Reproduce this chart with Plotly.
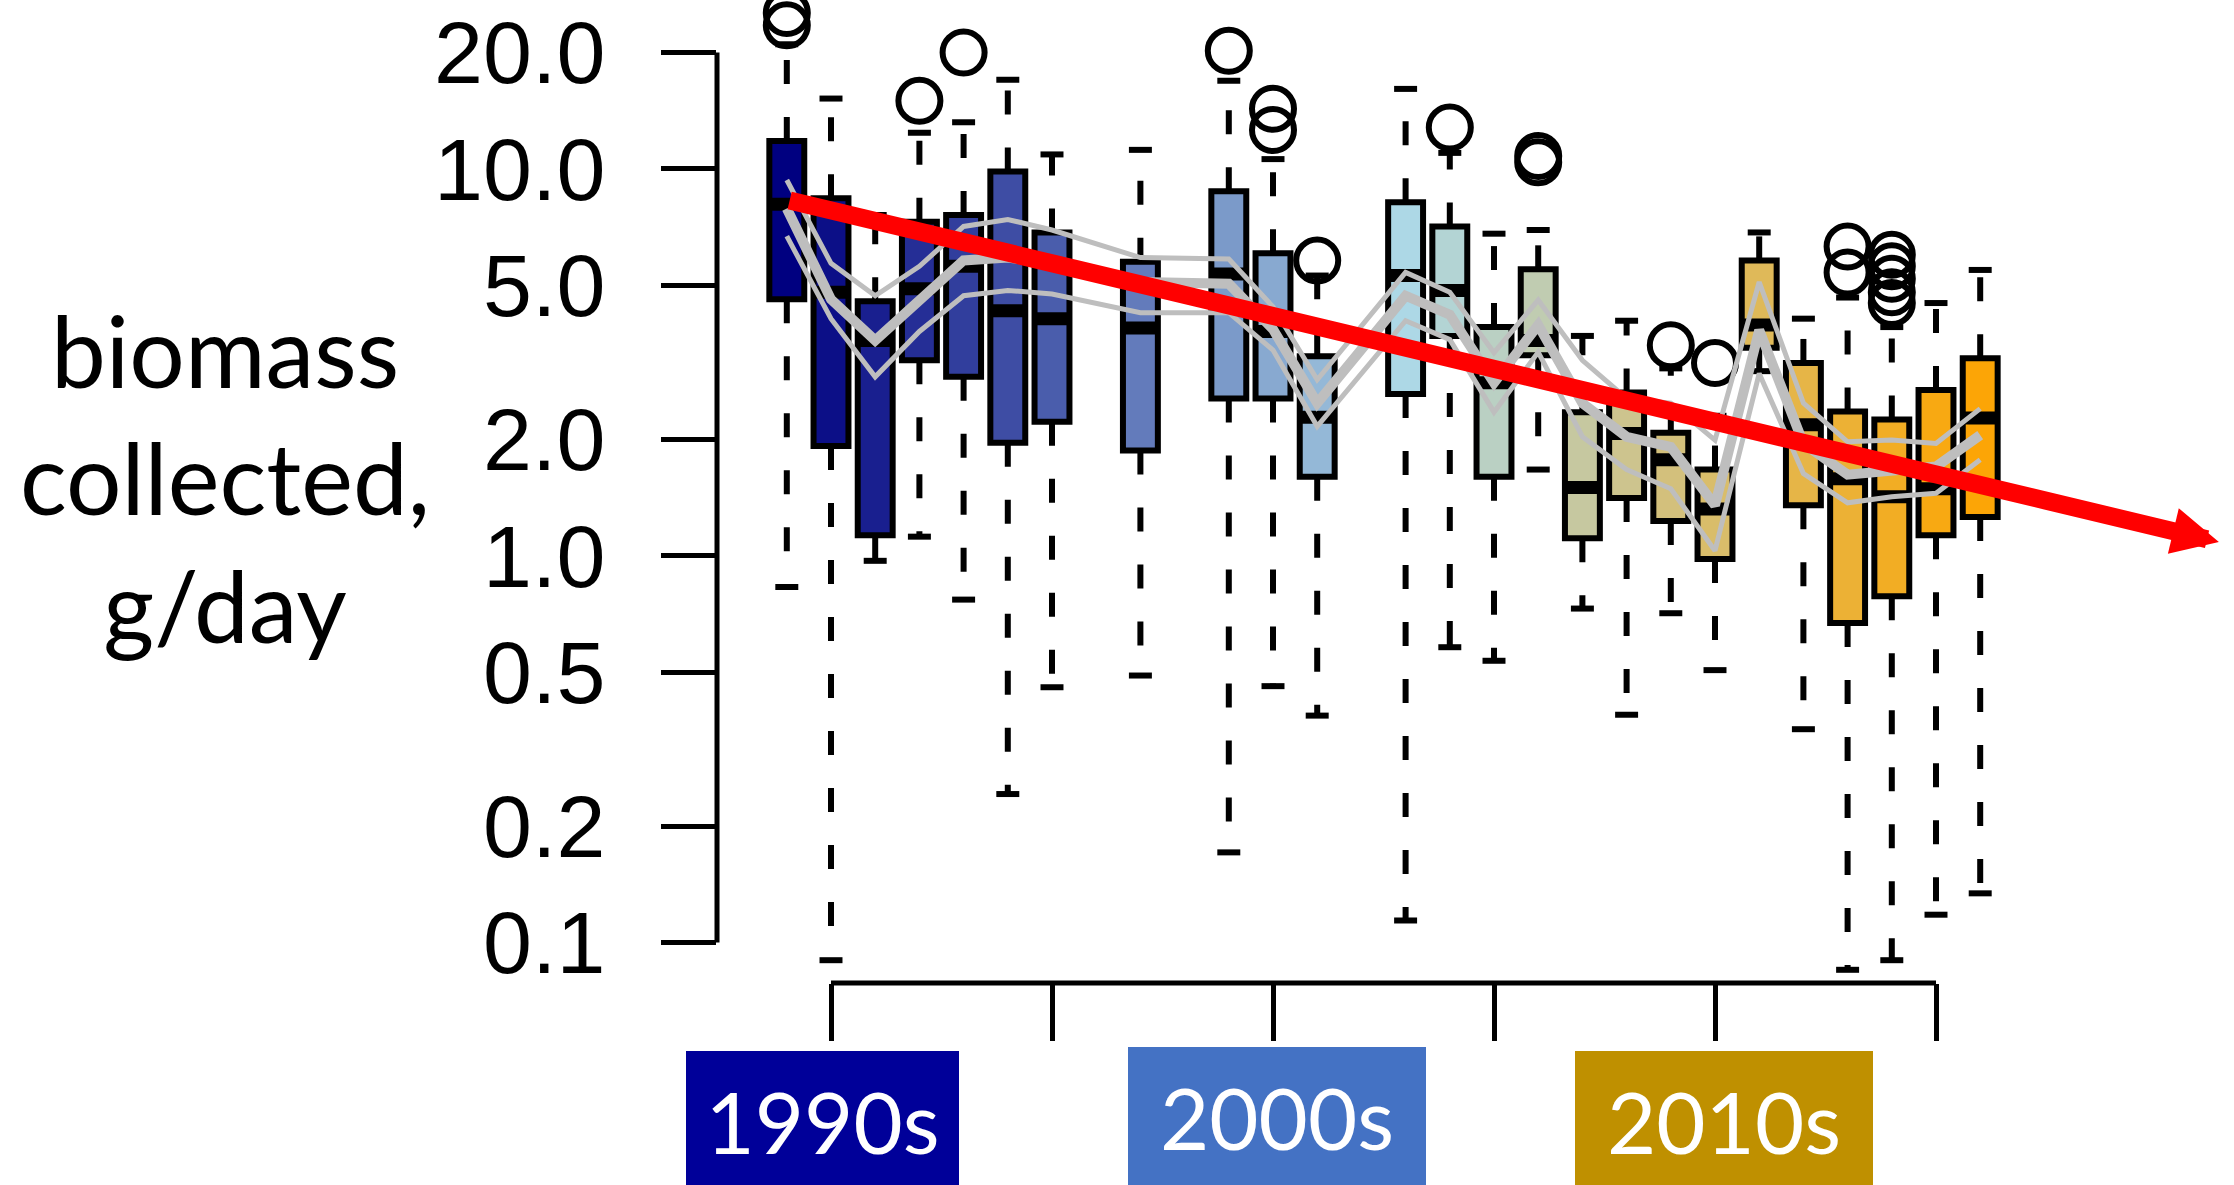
import math
import plotly.graph_objects as go

# ---------------- data ----------------
years = [1989, 1990, 1991, 1992, 1993, 1994, 1995, 1997, 1999, 2000, 2001,
         2003, 2004, 2005, 2006, 2007, 2008, 2009, 2010, 2011, 2012, 2013,
         2014, 2015, 2016]

q3 = [11.8, 8.4, 4.55, 7.3, 7.6, 9.85, 6.85, 5.75, 8.75, 6.05, 3.28,
      8.2, 7.1, 3.9, 5.5, 2.35, 2.64, 2.08, 1.67, 5.8, 3.15, 2.36,
      2.25, 2.68, 3.24]
median = [8.1, 4.8, 3.6, 4.9, 5.6, 4.3, 4.1, 3.88, 5.35, 3.8, 2.28,
          5.3, 4.85, 2.8, 3.6, 1.5, 2.07, 1.77, 1.32, 3.95, 2.18, 1.58,
          1.42, 1.49, 2.27]
q1 = [4.6, 1.92, 1.13, 3.2, 2.9, 1.96, 2.22, 1.87, 2.55, 2.55, 1.6,
      2.62, 3.7, 1.6, 3.3, 1.11, 1.41, 1.23, 0.98, 3.45, 1.35, 0.67,
      0.785, 1.13, 1.26]
upper_whisker = [21.0, 15.2, 7.6, 12.4, 13.2, 17.0, 10.9, 11.2, 16.9, 10.6, 5.3,
                 16.1, 11.0, 6.8, 6.95, 3.7, 4.05, 3.05, 2.3, 6.85, 4.1, 4.65,
                 3.9, 4.5, 5.48]
lower_whisker = [0.83, 0.09, 0.97, 1.12, 0.77, 0.242, 0.457, 0.49, 0.171, 0.46, 0.386,
                 0.114, 0.58, 0.535, 1.67, 0.73, 0.388, 0.71, 0.506, 3.0, 0.356, 0.085,
                 0.09, 0.118, 0.134]

outlier_year = [1989, 1989, 1992, 1993, 1999, 2000, 2000, 2001, 2004, 2006, 2006,
                2009, 2010, 2013, 2013, 2014, 2014, 2014, 2014, 2014]
outlier_value = [25.3, 23.5, 15.0, 20.0, 20.2, 14.3, 12.6, 5.8, 12.8, 10.8, 10.4,
                 3.5, 3.15, 6.3, 5.4, 6.0, 5.6, 5.2, 4.8, 4.5]

fit_upper = [9.36, 5.7, 4.7, 5.6, 7.1, 7.4, 6.95, 5.9, 5.85, 4.4, 2.85,
             5.4, 4.8, 3.35, 4.58, 3.2, 2.55, 2.48, 1.99, 5.1, 2.48, 1.97,
             1.99, 1.95, 2.40]
fit_mid = [7.9, 4.6, 3.6, 4.6, 5.8, 5.9, 5.7, 5.1, 5.05, 3.85, 2.48,
           4.7, 4.2, 2.8, 3.95, 2.48, 2.03, 1.91, 1.35, 3.83, 1.95, 1.62,
           1.67, 1.70, 2.05]
fit_lower = [6.7, 4.1, 2.9, 3.8, 4.7, 4.85, 4.75, 4.25, 4.25, 3.4, 2.16,
             4.05, 3.62, 2.35, 3.36, 2.03, 1.67, 1.49, 1.03, 2.96, 1.63, 1.37,
             1.42, 1.45, 1.77]

trend_x = [1989.03, 2021.4]
trend_y = [8.3, 1.085]

y_tick_vals = [0.1, 0.2, 0.5, 1, 2, 5, 10, 20]
y_tick_text = ["0.1", "0.2", "0.5", "1.0", "2.0", "5.0", "10.0", "20.0"]
x_tick_vals = [1990, 1995, 2000, 2005, 2010, 2015]

decade_labels = ["1990s", "2000s", "2010s"]
decade_x = [1989.8, 2000.1, 2010.2]

# ---------------- styles ----------------
box_colors = ["#000080", "#0c0f87", "#191f8f", "#252e96", "#313e9d", "#3e4da4",
              "#4a5dac", "#637bbb", "#7b9ac9", "#88a9d0", "#94b8d7", "#add8e6",
              "#b3d4d4", "#bad0c3", "#c0ccb1", "#c6c8a0", "#cdc48e", "#d3c07c",
              "#d9bd6a", "#dfb959", "#e6b547", "#ecb135", "#f2ad24", "#f8a912",
              "#fca506"]
decade_colors = ["#000099", "#4472C4", "#BF9000"]
decade_widths = [273, 298, 298]
decade_tops = [1051, 1047, 1051]

W, H = 2234, 1185
ML, MR, MT, MB = 717, 5, 0, 202
plot_w = W - ML - MR
plot_h = H - MT - MB
BOX_W = 0.79
CAP_HW = 0.26
GREY = "#bebebe"

fig = go.Figure()

# boxes
for yr, a, m, b, c in zip(years, q1, median, q3, box_colors):
    fig.add_trace(go.Box(
        x=[yr], q1=[a], median=[m], q3=[b], lowerfence=[a], upperfence=[b],
        width=BOX_W, fillcolor=c, line=dict(color="black", width=6),
        whiskerwidth=0, boxpoints=False, showlegend=False, hoverinfo="skip"))

# dashed whiskers
wx, wy = [], []
for yr, a, b, lo, hi in zip(years, q1, q3, lower_whisker, upper_whisker):
    wx += [yr, yr, None, yr, yr, None]
    wy += [b, hi, None, a, lo, None]
fig.add_trace(go.Scatter(x=wx, y=wy, mode="lines", connectgaps=False,
                         line=dict(color="black", width=6, dash="24px,33px"),
                         showlegend=False, hoverinfo="skip"))

# whisker caps
cx, cy = [], []
for yr, lo, hi in zip(years, lower_whisker, upper_whisker):
    cx += [yr - CAP_HW, yr + CAP_HW, None, yr - CAP_HW, yr + CAP_HW, None]
    cy += [hi, hi, None, lo, lo, None]
fig.add_trace(go.Scatter(x=cx, y=cy, mode="lines", connectgaps=False,
                         line=dict(color="black", width=6),
                         showlegend=False, hoverinfo="skip"))

# thick medians
mx, my = [], []
for yr, m in zip(years, median):
    mx += [yr - BOX_W / 2, yr + BOX_W / 2, None]
    my += [m, m, None]
fig.add_trace(go.Scatter(x=mx, y=my, mode="lines", connectgaps=False,
                         line=dict(color="black", width=13),
                         showlegend=False, hoverinfo="skip"))

# outliers
fig.add_trace(go.Scatter(x=outlier_year, y=outlier_value, mode="markers",
                         marker=dict(symbol="circle-open", size=42,
                                     color="black", line=dict(color="black", width=6)),
                         showlegend=False, hoverinfo="skip"))

# grey fitted lines
for vals, lw in ((fit_upper, 5), (fit_lower, 5), (fit_mid, 10)):
    fig.add_trace(go.Scatter(x=years, y=vals, mode="lines",
                             line=dict(color=GREY, width=lw),
                             showlegend=False, hoverinfo="skip"))

# axis lines (R style: only between first and last ticks)
shapes = [
    dict(type="line", xref="paper", x0=0, x1=0, yref="y",
         y0=min(y_tick_vals), y1=max(y_tick_vals),
         line=dict(color="black", width=5)),
    dict(type="line", xref="x", x0=x_tick_vals[0], x1=x_tick_vals[-1],
         yref="paper", y0=0, y1=0, line=dict(color="black", width=5)),
]

annotations = [
    dict(text="biomass<br>collected,<br>g/day", xref="paper", yref="paper",
         x=(225 - ML) / plot_w, y=(plot_h - 477) / plot_h,
         xanchor="center", yanchor="middle", showarrow=False, align="center",
         font=dict(family="Lato, Open Sans, sans-serif", size=98, color="black")),
    # red trend arrow
    dict(text="", x=trend_x[1], y=math.log10(trend_y[1]),
         ax=trend_x[0], ay=math.log10(trend_y[0]),
         xref="x", yref="y", axref="x", ayref="y",
         showarrow=True, arrowhead=2, arrowsize=0.52, arrowwidth=18,
         arrowcolor="#ff0000", standoff=0, startstandoff=0),
]
for lab, xc, col, w, top in zip(decade_labels, decade_x, decade_colors,
                                decade_widths, decade_tops):
    annotations.append(dict(
        text=lab, xref="x", yref="paper", x=xc, y=(plot_h - top) / plot_h,
        xanchor="center", yanchor="top", showarrow=False,
        width=w, height=140, bgcolor=col, borderpad=0, borderwidth=0,
        font=dict(family="Lato, Open Sans, sans-serif", size=85, color="white")))

x0 = 1990 + (ML - 831) / 44.2
x1 = x0 + plot_w / 44.2
fig.update_layout(
    width=W, height=H, margin=dict(l=ML, r=MR, t=MT, b=MB, pad=0),
    paper_bgcolor="white", plot_bgcolor="white", boxmode="overlay",
    showlegend=False, shapes=shapes, annotations=annotations,
)
fig.update_xaxes(range=[x0, x1], showgrid=False, zeroline=False, showline=False,
                 ticks="outside", tickvals=x_tick_vals, ticklen=57, tickwidth=5,
                 tickcolor="black", showticklabels=False)
fig.update_yaxes(type="log", range=[(555.7 - plot_h) / 386.8, 555.7 / 386.8],
                 showgrid=False, zeroline=False, showline=False,
                 ticks="outside", tickvals=y_tick_vals, ticktext=y_tick_text,
                 ticklen=55, tickwidth=5, tickcolor="black", ticklabelstandoff=38,
                 tickfont=dict(family="Liberation Sans, Arial, sans-serif",
                               size=88, color="black"))

fig.write_html("out.html", config={"displayModeBar": False},
               post_script="document.body.style.margin='0';")
